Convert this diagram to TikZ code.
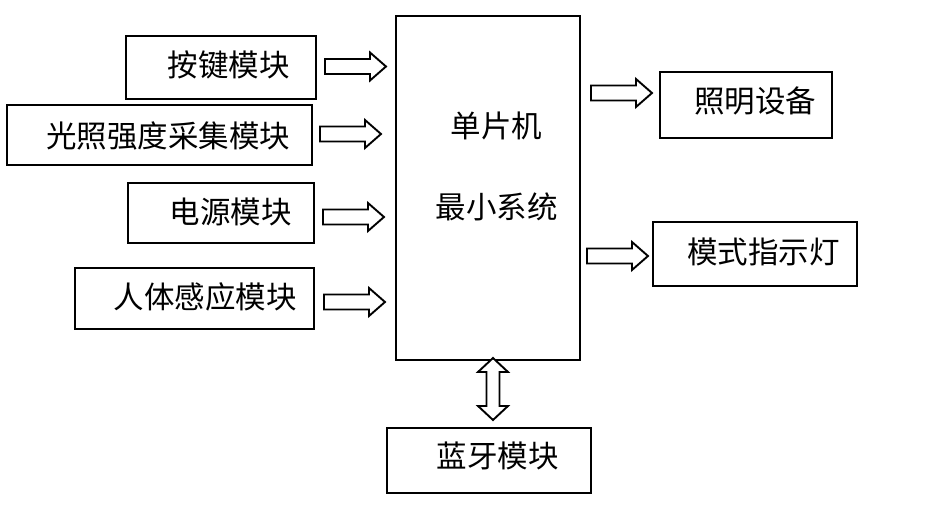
\documentclass[tikz,border=0pt]{standalone}
\usepackage{fontspec}
\newfontfamily\cjk{Noto Sans CJK SC}
\newcommand{\hollowR}[1]{\draw[arr] ([shift={(-30.5,-7.5)}]#1) -- ([shift={(14.5,-7.5)}]#1) -- ([shift={(14.5,-14)}]#1) -- ([shift={(30.5,0)}]#1) -- ([shift={(14.5,14)}]#1) -- ([shift={(14.5,7.5)}]#1) -- ([shift={(-30.5,7.5)}]#1) -- cycle;}
\begin{document}
\begin{tikzpicture}[x=1pt,y=-1pt,
  box/.style={draw=black,line width=2pt,rectangle,inner sep=0pt},
  lbl/.style={inner sep=0pt,font=\cjk\fontsize{30.5}{30.5}\selectfont},
  arr/.style={draw=black,line width=1.9pt,line join=miter,fill=white}]
\useasboundingbox (0,0) rectangle (946,519);
% boxes
\node[box,minimum width=190pt,minimum height=63pt] (key) at (221,67.5) {};
\node[box,minimum width=305pt,minimum height=60pt] (light) at (159.5,135) {};
\node[box,minimum width=186pt,minimum height=60pt] (power) at (221,213) {};
\node[box,minimum width=239pt,minimum height=61pt] (pir) at (194.5,298.5) {};
\node[box,line width=2.3pt,minimum width=184pt,minimum height=344pt] (mcu) at (488,188) {};
\node[box,minimum width=172pt,minimum height=66pt] (lamp) at (746,105) {};
\node[box,minimum width=204pt,minimum height=64pt] (led) at (755,254) {};
\node[box,minimum width=204pt,minimum height=65pt] (bt) at (489,460.5) {};
% labels
\node[lbl] (tkey) at (228.5,65) {按键模块};
\node[lbl] (tlight) at (168,136) {光照强度采集模块};
\node[lbl] (tpower) at (230.5,212) {电源模块};
\node[lbl] (tpir) at (205,297) {人体感应模块};
\node[lbl] (tmcu1) at (496.5,126) {单片机};
\node[lbl] (tmcu2) at (496.5,207) {最小系统};
\node[lbl] (tlamp) at (755,101) {照明设备};
\node[lbl] (tled) at (763.5,252) {模式指示灯};
\node[lbl] (tbt) at (497.5,456) {蓝牙模块};
% arrow centres
\coordinate (a1) at (355.5,66.5);
\coordinate (a2) at (350.5,134);
\coordinate (a3) at (353.5,217);
\coordinate (a4) at (354.5,302);
\coordinate (a5) at (621.5,93);
\coordinate (a6) at (617.5,256);
\coordinate (a7) at (493,389);
\hollowR{a1}
\hollowR{a2}
\hollowR{a3}
\hollowR{a4}
\hollowR{a5}
\hollowR{a6}
\draw[arr] ([shift={(0,-31)}]a7) -- ([shift={(15,-17)}]a7) -- ([shift={(6.5,-17)}]a7) -- ([shift={(6.5,17)}]a7) -- ([shift={(15,17)}]a7) -- ([shift={(0,31)}]a7) -- ([shift={(-15,17)}]a7) -- ([shift={(-6.5,17)}]a7) -- ([shift={(-6.5,-17)}]a7) -- ([shift={(-15,-17)}]a7) -- cycle;
\end{tikzpicture}
\end{document}
